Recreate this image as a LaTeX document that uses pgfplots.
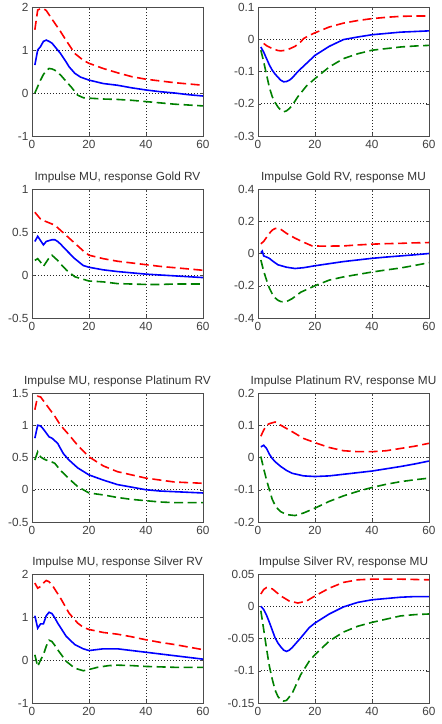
\documentclass[border=0pt]{standalone}
\usepackage{fontspec}
\setmainfont{Liberation Sans}
\usepackage{pgfplots}
\pgfplotsset{compat=1.18}

\definecolor{mred}{RGB}{255,0,0}
\definecolor{mblue}{RGB}{0,0,255}
\definecolor{mgreen}{RGB}{0,128,0}

\pgfplotsset{
  irf/.style={
    scale only axis, width=171pt, height=129pt, anchor=south west,
    xmin=0, xmax=60, xtick={0,20,40,60},
    grid=major, grid style={dash pattern=on 0.9pt off 2.1pt, black!85, line width=0.6pt},
    axis line style={black!70, line width=0.8pt},
    tick align=inside, major tick length=3pt, tick style={black!70},
    ticklabel style={font=\fontsize{11.8}{14}\selectfont, text=black!75},
    xticklabel style={yshift=-1pt},
    title style={font=\fontsize{11.8}{14}\selectfont, text=black!80, yshift=-3pt},
    scaled y ticks=false,
    /pgf/number format/assume math mode=true,
  },
  hi/.style={mred, line width=1.6pt, dash pattern=on 9pt off 4.5pt},
  mid/.style={mblue, line width=1.6pt},
  lo/.style={mgreen, line width=1.6pt, dash pattern=on 9pt off 4.5pt},
}

\begin{document}
\begin{tikzpicture}[x=1pt,y=1pt]
\path[use as bounding box] (0,0) rectangle (442,724);

% ---- row 1 ----
\begin{axis}[irf, at={(32pt,588pt)}, ymin=-1, ymax=2, ytick={-1,0,1,2}, yticklabels={-1,0,1,2}]
\addplot[hi] coordinates {(1,1.47)(2,1.93)(3,1.96)(4,1.96)(5,1.92)(7,1.72)(10,1.43)(12,1.22)(15,0.92)(18,0.76)(20,0.69)(25,0.57)(30,0.47)(35,0.38)(40,0.32)(45,0.28)(50,0.24)(55,0.21)(60,0.18)};
\addplot[mid] coordinates {(1,0.65)(2,1.0)(3,1.08)(4,1.2)(5,1.23)(6,1.2)(7,1.16)(8,1.08)(10,0.92)(12,0.72)(13,0.61)(15,0.46)(17,0.37)(20,0.3)(25,0.22)(30,0.18)(35,0.12)(40,0.07)(45,0.03)(50,0.0)(55,-0.04)(60,-0.07)};
\addplot[lo] coordinates {(1,0.0)(2,0.15)(3,0.3)(4,0.43)(5,0.52)(6,0.57)(7,0.56)(8,0.53)(10,0.42)(12,0.27)(14,0.12)(16,-0.05)(18,-0.11)(20,-0.12)(25,-0.14)(30,-0.15)(35,-0.17)(40,-0.2)(45,-0.23)(50,-0.26)(55,-0.28)(60,-0.3)};
\end{axis}

\begin{axis}[irf, at={(258pt,588pt)}, ymin=-0.3, ymax=0.1, ytick={-0.3,-0.2,-0.1,0,0.1}, yticklabels={-0.3,-0.2,-0.1,0,0.1}]
\addplot[hi] coordinates {(2,-0.013)(3,-0.02)(5,-0.029)(7,-0.035)(8,-0.036)(10,-0.034)(12,-0.026)(13,-0.022)(15,-0.008)(16,0.002)(18,0.012)(20,0.02)(25,0.038)(30,0.05)(35,0.058)(40,0.064)(45,0.068)(50,0.071)(55,0.072)(60,0.072)};
\addplot[mid] coordinates {(1,-0.024)(2,-0.04)(3,-0.06)(4,-0.08)(5,-0.096)(6,-0.108)(7,-0.118)(8,-0.127)(9,-0.132)(10,-0.131)(11,-0.127)(12,-0.12)(14,-0.1)(17,-0.075)(20,-0.05)(25,-0.022)(30,-0.001)(35,0.007)(40,0.014)(45,0.018)(50,0.022)(55,0.024)(60,0.026)};
\addplot[lo] coordinates {(1,-0.034)(2,-0.07)(3,-0.11)(4,-0.15)(5,-0.178)(6,-0.196)(7,-0.21)(8,-0.22)(9,-0.225)(10,-0.222)(11,-0.215)(12,-0.205)(14,-0.178)(17,-0.145)(20,-0.122)(25,-0.086)(30,-0.06)(35,-0.045)(40,-0.034)(45,-0.029)(50,-0.024)(55,-0.021)(60,-0.019)};
\end{axis}

% ---- row 2 ----
\begin{axis}[irf, at={(32pt,406pt)}, ymin=-0.5, ymax=1, ytick={-0.5,0,0.5,1}, yticklabels={-0.5,0,0.5,1},
  title={Impulse MU, response Gold RV}]
\addplot[hi] coordinates {(1,0.73)(2,0.69)(3,0.65)(5,0.62)(8,0.58)(10,0.52)(13,0.43)(16,0.34)(18,0.28)(20,0.23)(25,0.19)(30,0.16)(35,0.14)(40,0.12)(45,0.1)(50,0.085)(55,0.07)(60,0.055)};
\addplot[mid] coordinates {(1,0.39)(2,0.45)(3,0.4)(4,0.35)(5,0.39)(6,0.4)(7,0.41)(8,0.41)(9,0.39)(10,0.36)(12,0.29)(15,0.19)(18,0.11)(20,0.09)(25,0.06)(30,0.04)(35,0.025)(40,0.01)(45,0.0)(50,-0.01)(55,-0.02)(60,-0.03)};
\addplot[lo] coordinates {(1,0.17)(2,0.19)(3,0.15)(4,0.1)(5,0.15)(6,0.2)(7,0.23)(8,0.2)(9,0.17)(10,0.13)(12,0.06)(15,-0.02)(18,-0.05)(20,-0.07)(25,-0.08)(30,-0.1)(35,-0.105)(40,-0.11)(45,-0.11)(50,-0.105)(55,-0.105)(60,-0.105)};
\end{axis}

\begin{axis}[irf, at={(258pt,406pt)}, ymin=-0.4, ymax=0.4, ytick={-0.4,-0.2,0,0.2,0.4}, yticklabels={-0.4,-0.2,0,0.2,0.4},
  title={Impulse Gold RV, response MU}]
\addplot[hi] coordinates {(1,0.06)(2,0.075)(3,0.1)(4,0.125)(5,0.145)(6,0.155)(7,0.155)(8,0.15)(10,0.125)(13,0.095)(16,0.07)(19,0.047)(22,0.046)(25,0.046)(30,0.047)(35,0.053)(40,0.058)(45,0.061)(50,0.063)(55,0.066)(60,0.068)};
\addplot[mid] coordinates {(1,0.005)(1.5,0.015)(2,-0.015)(3,-0.022)(4,-0.03)(5,-0.045)(7,-0.07)(10,-0.085)(13,-0.093)(16,-0.088)(20,-0.076)(25,-0.063)(30,-0.05)(35,-0.04)(40,-0.03)(45,-0.022)(50,-0.015)(55,-0.008)(60,0.0)};
\addplot[lo] coordinates {(1,-0.04)(2,-0.11)(3,-0.165)(4,-0.215)(5,-0.25)(6,-0.275)(7,-0.29)(8,-0.298)(9,-0.3)(10,-0.298)(12,-0.28)(15,-0.24)(20,-0.2)(25,-0.165)(30,-0.145)(35,-0.13)(40,-0.115)(45,-0.102)(50,-0.09)(55,-0.074)(60,-0.057)};
\end{axis}

% ---- row 3 ----
\begin{axis}[irf, at={(32pt,202pt)}, ymin=-0.5, ymax=1.5, ytick={-0.5,0,0.5,1,1.5}, yticklabels={-0.5,0,0.5,1,1.5},
  title={Impulse MU, response Platinum RV}]
\addplot[hi] coordinates {(1,1.24)(2,1.45)(3,1.44)(4,1.38)(5,1.32)(8,1.14)(10,1.0)(13,0.85)(16,0.69)(20,0.51)(25,0.37)(30,0.28)(35,0.23)(40,0.18)(45,0.15)(50,0.12)(55,0.11)(60,0.1)};
\addplot[mid] coordinates {(1,0.8)(2,1.0)(3,0.99)(4,0.94)(5,0.88)(6,0.82)(7,0.8)(9,0.72)(11,0.56)(13,0.46)(16,0.34)(20,0.23)(25,0.15)(30,0.08)(35,0.04)(40,0.0)(45,-0.02)(50,-0.03)(55,-0.04)(60,-0.05)};
\addplot[lo] coordinates {(1,0.46)(2,0.59)(3,0.51)(4,0.48)(5,0.46)(7,0.43)(8,0.41)(10,0.3)(13,0.17)(16,0.05)(20,-0.05)(25,-0.08)(30,-0.12)(35,-0.15)(40,-0.17)(45,-0.19)(50,-0.2)(55,-0.2)(60,-0.2)};
\end{axis}

\begin{axis}[irf, at={(258pt,202pt)}, ymin=-0.2, ymax=0.2, ytick={-0.2,-0.1,0,0.1,0.2}, yticklabels={-0.2,-0.1,0,0.1,0.2},
  title={Impulse Platinum RV, response MU}]
\addplot[hi] coordinates {(1,0.066)(2,0.085)(3,0.1)(4,0.105)(6,0.11)(8,0.1)(10,0.09)(12,0.08)(16,0.059)(20,0.046)(25,0.031)(30,0.021)(35,0.018)(40,0.018)(45,0.021)(50,0.028)(55,0.035)(60,0.044)};
\addplot[mid] coordinates {(1,0.033)(2,0.038)(3,0.028)(4,0.01)(5,-0.003)(6,-0.013)(8,-0.028)(10,-0.04)(12,-0.049)(16,-0.057)(20,-0.059)(25,-0.057)(30,-0.052)(35,-0.047)(40,-0.042)(45,-0.035)(50,-0.028)(55,-0.02)(60,-0.011)};
\addplot[lo] coordinates {(1,0.003)(2,-0.035)(3,-0.07)(4,-0.1)(5,-0.13)(6,-0.148)(7,-0.16)(8,-0.168)(10,-0.177)(13,-0.18)(16,-0.172)(20,-0.157)(25,-0.136)(30,-0.119)(35,-0.105)(40,-0.093)(45,-0.083)(50,-0.075)(55,-0.069)(60,-0.064)};
\end{axis}

% ---- row 4 ----
\begin{axis}[irf, at={(32pt,21pt)}, ymin=-1, ymax=2, ytick={-1,0,1,2}, yticklabels={-1,0,1,2},
  title={Impulse MU, response Silver RV}]
\addplot[hi] coordinates {(1,1.79)(2,1.67)(3,1.71)(4,1.79)(5,1.85)(6,1.82)(7,1.75)(10,1.44)(13,1.09)(16,0.86)(18,0.76)(20,0.71)(25,0.64)(30,0.6)(35,0.54)(40,0.47)(45,0.41)(50,0.36)(55,0.3)(60,0.24)};
\addplot[mid] coordinates {(1,1.03)(2,0.74)(3,0.84)(4,0.84)(5,1.03)(6,1.11)(7,1.08)(8,0.98)(9,0.86)(12,0.55)(15,0.36)(18,0.26)(20,0.22)(25,0.26)(30,0.26)(35,0.22)(40,0.18)(45,0.14)(50,0.1)(55,0.06)(60,0.02)};
\addplot[lo] coordinates {(1,0.12)(2,-0.15)(3,0.0)(4,0.12)(5,0.32)(6,0.46)(7,0.43)(8,0.34)(9,0.24)(12,-0.03)(15,-0.19)(18,-0.25)(20,-0.22)(23,-0.17)(27,-0.13)(30,-0.12)(35,-0.13)(40,-0.15)(50,-0.17)(60,-0.17)};
\end{axis}

\begin{axis}[irf, at={(258pt,21pt)}, ymin=-0.15, ymax=0.05, ytick={-0.15,-0.1,-0.05,0,0.05}, yticklabels={-0.15,-0.1,-0.05,0,0.05},
  title={Impulse Silver RV, response MU}]
\addplot[hi] coordinates {(1,0.019)(2,0.026)(3,0.029)(5,0.027)(8,0.016)(11,0.008)(14,0.005)(17,0.008)(20,0.016)(25,0.028)(30,0.037)(35,0.041)(40,0.042)(50,0.042)(60,0.041)};
\addplot[mid] coordinates {(1,0.0)(2,-0.005)(3,-0.014)(4,-0.025)(5,-0.037)(6,-0.049)(7,-0.057)(8,-0.063)(9,-0.068)(10,-0.07)(11,-0.068)(12,-0.064)(15,-0.049)(18,-0.033)(20,-0.026)(25,-0.012)(30,-0.001)(35,0.006)(40,0.01)(45,0.012)(50,0.014)(55,0.015)(60,0.015)};
\addplot[lo] coordinates {(1,-0.007)(2,-0.036)(3,-0.066)(4,-0.093)(5,-0.113)(6,-0.13)(7,-0.14)(8,-0.145)(9,-0.147)(10,-0.146)(12,-0.135)(15,-0.106)(18,-0.085)(20,-0.075)(25,-0.054)(30,-0.04)(35,-0.031)(40,-0.025)(45,-0.02)(50,-0.015)(55,-0.013)(60,-0.012)};
\end{axis}
\end{tikzpicture}
\end{document}
